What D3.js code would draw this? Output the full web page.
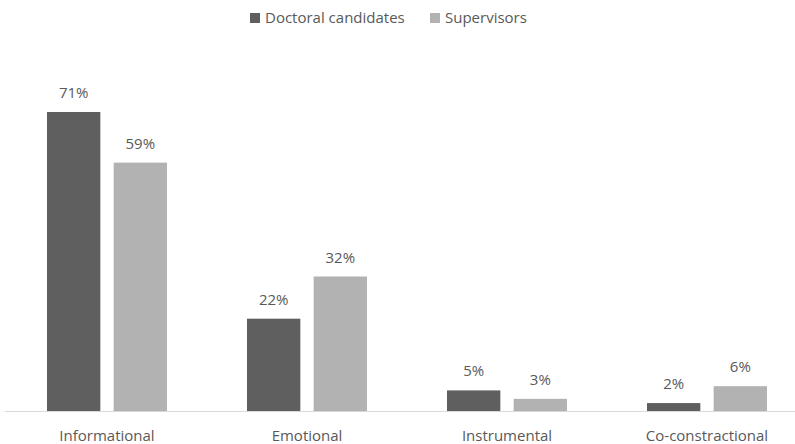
<!DOCTYPE html>
<html>
<head>
<meta charset="utf-8">
<script src="https://cdn.jsdelivr.net/npm/d3@7"></script>
<style>
  body { margin: 0; background: #fff; }
  text { font-family: "Open Sans", "Noto Sans", sans-serif; fill: #595959; }
</style>
</head>
<body>
<svg width="795" height="444"></svg>
<script>
const categories = ['Informational', 'Emotional', 'Instrumental', 'Co-constractional'];
const seriesNames = ['Doctoral candidates', 'Supervisors'];
const doctoral = [71, 22, 5, 2];
const supervisors = [59, 32, 3, 6];
const colors = ['#5f5f5f', '#b2b2b2'];

const svg = d3.select('svg');
const baseY = 411.5;
const fontSize = 15;

const data = categories.map((c, i) => ({ category: c, values: [doctoral[i], supervisors[i]] }));

// category bands run past the right edge, like the source image
const xScale = d3.scaleBand().domain(categories).range([7, 807]);
const xInner = d3.scaleBand().domain([0, 1]).range([40, 160]).paddingInner(0.2);

const yScale = d3.scaleLinear().domain([0, 71]).range([baseY, 112]);

const g = svg.append('g');

const groups = g.selectAll('g.cat')
  .data(data).enter()
  .append('g')
    .attr('class', 'cat')
    .attr('transform', d => `translate(${xScale(d.category)},0)`);

groups.selectAll('rect')
  .data(d => d.values).enter()
  .append('rect')
    .attr('x', (d, i) => xInner(i))
    .attr('width', xInner.bandwidth())
    .attr('y', d => yScale(d))
    .attr('height', d => baseY - yScale(d))
    .attr('fill', (d, i) => colors[i]);

groups.selectAll('text.val')
  .data(d => d.values).enter()
  .append('text')
    .attr('class', 'val')
    .attr('x', (d, i) => xInner(i) + xInner.bandwidth() / 2)
    .attr('y', d => yScale(d) - 14)
    .attr('text-anchor', 'middle')
    .attr('font-size', fontSize)
    .text(d => d + '%');

// baseline
svg.append('line')
  .attr('x1', 5).attr('x2', 795)
  .attr('y1', baseY).attr('y2', baseY)
  .attr('stroke', '#d9d9d9');

// category labels
const xAxis = d3.axisBottom(xScale).tickSize(0).tickPadding(19);
const xAxisG = svg.append('g')
  .attr('transform', `translate(0,${baseY})`)
  .call(xAxis);
xAxisG.select('.domain').remove();
xAxisG.selectAll('text')
  .attr('font-size', fontSize)
  .style('font-family', '"Open Sans", "Noto Sans", sans-serif')
  .attr('fill', '#595959');

// legend
const legendX = [250, 430];
const legend = svg.append('g');
seriesNames.forEach((name, i) => {
  legend.append('rect')
    .attr('x', legendX[i]).attr('y', 13)
    .attr('width', 10).attr('height', 10)
    .attr('fill', colors[i]);
  legend.append('text')
    .attr('x', legendX[i] + 15).attr('y', 23)
    .attr('font-size', fontSize)
    .text(name);
});
</script>
</body>
</html>
